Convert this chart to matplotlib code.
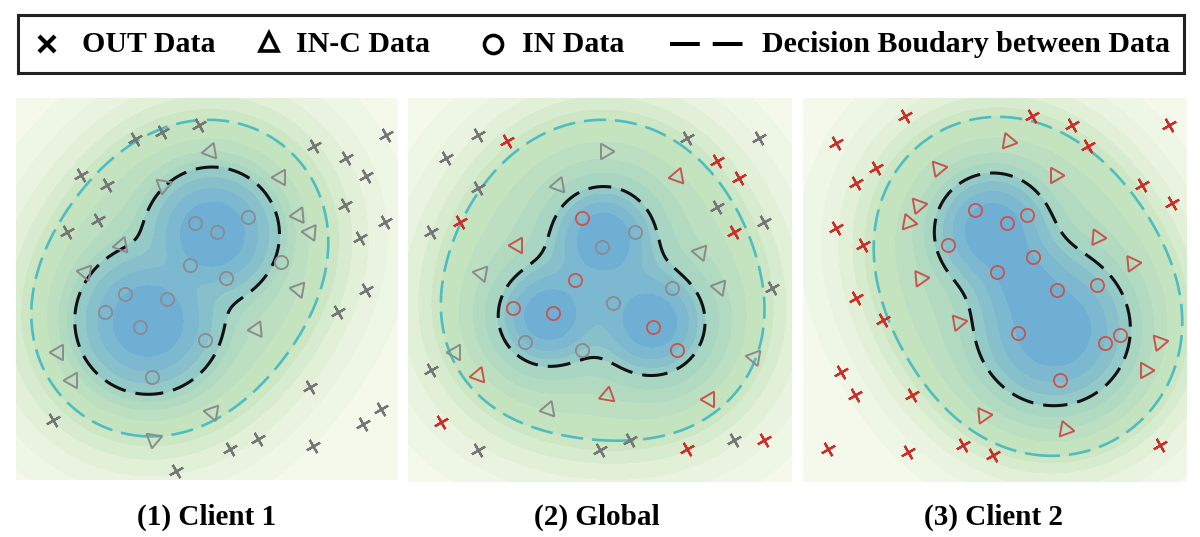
import numpy as np
import matplotlib.pyplot as plt
from matplotlib.colors import LinearSegmentedColormap

W, H = 1200, 537

# ---- panel 1 : Client 1 (local coords 0-100) ----
p1_out_x = [31.1, 38.3, 48.0, 17.0, 23.9, 21.5, 13.3, 78.0, 96.9, 86.3, 91.7, 86.1,
            96.5, 90.0, 91.5, 84.3, 76.9, 95.6, 90.8, 77.8, 63.4, 56.0, 42.0, 9.8]
p1_out_y = [89.2, 91.0, 93.0, 79.9, 77.3, 68.1, 65.0, 87.5, 90.4, 84.3, 79.6, 72.0,
            67.6, 63.3, 49.7, 44.0, 24.3, 18.6, 14.7, 9.0, 10.8, 8.1, 2.4, 15.6]
p1_out_c = ['g'] * 24
p1_inc_x = [50.7, 69.0, 38.5, 27.6, 18.0, 73.8, 76.9, 73.8, 62.9, 11.1, 14.6, 51.2, 35.9]
p1_inc_y = [86.0, 79.3, 77.3, 61.5, 54.5, 69.4, 65.0, 50.1, 39.6, 33.5, 26.1, 17.8, 10.8]
p1_inc_rot = [100, 90, 170, 100, 80, 95, 85, 80, 95, 90, 90, 80, 170]
p1_inc_c = ['g'] * 13
p1_in_x = [46.8, 52.5, 60.8, 45.5, 69.5, 55.1, 28.5, 39.4, 23.3, 32.4, 49.4, 35.5]
p1_in_y = [67.2, 65.0, 68.8, 56.3, 57.1, 52.8, 48.8, 47.5, 44.0, 40.1, 36.6, 26.9]
p1_in_c = ['g'] * 12
p1_blob_x = [51.5, 34.5]
p1_blob_y = [64.5, 41.5]
p1_blob_s = [6.8, 7.5]
p1_blob_w = [1.0, 1.0]
p1_blob_ww = [1.0, 1.0]
p1_inner_anchor = (15.4, 40.9)
p1_outer_anchor = (4.1, 40.9)

# ---- panel 2 : Global ----
p2_out_x = [18.3, 10.0, 18.3, 6.1, 72.6, 91.3, 80.4, 92.6, 94.8, 6.1, 18.3, 50.0, 57.8, 84.8,
            25.7, 13.5, 80.4, 86.1, 84.8, 8.7, 72.6, 92.6]
p2_out_y = [90.4, 84.3, 76.5, 65.2, 89.6, 89.6, 71.7, 67.8, 50.4, 29.1, 8.3, 8.3, 10.9, 10.9,
            88.7, 67.8, 83.5, 79.1, 65.2, 15.7, 8.7, 10.9]
p2_out_c = ['g'] * 14 + ['r'] * 8
p2_inc_x = [51.3, 39.1, 19.1, 76.1, 80.9, 12.2, 36.5, 90.0, 70.0, 28.3, 18.3, 51.7, 78.3]
p2_inc_y = [86.1, 77.4, 54.3, 60.0, 50.9, 33.9, 19.1, 32.6, 79.6, 61.7, 27.8, 22.6, 21.7]
p2_inc_rot = [150, 100, 80, 80, 80, 90, 100, 80, 100, 90, 100, 110, 90]
p2_inc_c = ['g'] * 8 + ['r'] * 5
p2_in_x = [50.4, 59.1, 68.7, 53.5, 30.4, 45.2, 45.2, 43.5, 27.4, 37.8, 63.9, 70.0]
p2_in_y = [61.3, 65.0, 50.4, 46.5, 36.5, 34.3, 68.7, 52.6, 45.2, 43.9, 40.4, 34.3]
p2_in_c = ['g'] * 6 + ['r'] * 6
p2_blob_x = [50.9, 36.1, 63.9]
p2_blob_y = [63.9, 43.0, 41.3]
p2_blob_s = [8.0, 8.0, 8.5]
p2_blob_w = [1.0, 1.0, 1.0]
p2_blob_ww = [1.3, 0.85, 0.95]
p2_inner_anchor = (23.5, 43.0)
p2_outer_anchor = (8.7, 43.0)

# ---- panel 3 : Client 2 ----
p3_out_x = [26.5, 8.7, 19.1, 13.9, 8.7, 15.7, 13.9, 20.9, 10.0, 13.5, 28.3, 6.5, 27.4, 41.7,
            49.6, 59.6, 70.0, 74.3, 95.2, 88.3, 96.1, 93.0]
p3_out_y = [95.2, 88.3, 81.7, 77.8, 66.1, 61.7, 47.8, 42.2, 28.7, 22.6, 22.6, 8.7, 7.8, 9.6,
            7.0, 95.2, 93.0, 87.4, 93.0, 77.4, 72.6, 9.6]
p3_out_c = ['r'] * 22
p3_inc_x = [53.5, 35.2, 65.7, 30.0, 27.4, 30.4, 40.4, 76.5, 85.7, 92.6, 89.1, 47.0, 68.3]
p3_inc_y = [88.7, 81.7, 80.0, 72.2, 67.8, 53.0, 41.7, 63.9, 57.0, 36.5, 29.1, 17.4, 13.9]
p3_inc_rot = [-100, -80, -90, -80, -100, -85, -80, -95, -85, -80, -90, -85, -100]
p3_inc_c = ['r'] * 13
p3_in_x = [44.8, 53.0, 58.3, 37.8, 60.0, 50.4, 66.1, 76.5, 56.1, 78.7, 82.6, 67.0]
p3_in_y = [70.9, 67.4, 69.6, 61.7, 58.7, 54.8, 50.0, 51.3, 38.7, 36.1, 38.3, 26.5]
p3_in_c = ['r'] * 12
p3_blob_x = [49.3, 65.5, 57.0]
p3_blob_y = [65.5, 39.5, 53.0]
p3_blob_s = [7.0, 9.3, 6.0]
p3_blob_w = [1.0, 1.0, 0.5]
p3_blob_ww = [1.0, 1.25, 0.6]
p3_inner_anchor = (50.9, 80.4)
p3_outer_anchor = (46.5, 94.8)

wide_amp = [0.03, 0.1, 0.05]
wide_sig = [20, 20, 19]
titles = ['(1) Client 1', '(2) Global', '(3) Client 2']

GRAY = {'x': '#767676', 'm': '#8b8b8b'}
RED = {'x': '#cc2f2a', 'm': '#c9544c'}


def px_box(left, top, w, h):
    return [left / W, 1 - (top + h) / H, w / W, h / H]


def density(X, Y, bx, by, bs, bw, bww, a, s2):
    F = np.zeros_like(np.asarray(X, dtype=float))
    for x0, y0, s, w, ww in zip(bx, by, bs, bw, bww):
        r2 = (X - x0) ** 2 + (Y - y0) ** 2
        F = F + w * np.exp(-r2 / (2 * s * s)) + a * ww * np.exp(-r2 / (2 * s2 * s2))
    return F


low_cm = LinearSegmentedColormap.from_list('low', ['#f4f9ec', '#e6f2dc', '#cde7c5'])
mid_cm = LinearSegmentedColormap.from_list('mid', ['#c4e3bf', '#a9d6c2'])
high_cm = LinearSegmentedColormap.from_list('high', ['#93c9c7', '#70afd4'])


def draw_panel(ax, blobs, a, s2, inner_pt, outer_pt, outs, incs, ins):
    g = np.linspace(0, 100, 400)
    X, Y = np.meshgrid(g, g)
    F = density(X, Y, *blobs, a, s2)
    inner = float(density(np.array(inner_pt[0]), np.array(inner_pt[1]), *blobs, a, s2))
    outer = float(density(np.array(outer_pt[0]), np.array(outer_pt[1]), *blobs, a, s2))
    lv_low = outer * np.array([0, 0.1, 0.22, 0.38, 0.58, 0.8, 1.0])
    lv_mid = np.geomspace(outer, inner, 5)
    lv_high = np.geomspace(inner, F.max() * 1.001, 5)
    levels = np.concatenate([lv_low, lv_mid[1:], lv_high[1:]])
    cols = list(low_cm(np.linspace(0, 1, 6))) + list(mid_cm(np.linspace(0, 1, 4))) + \
        list(high_cm(np.linspace(0, 1, 4)))
    ax.contourf(X, Y, F, levels=levels, colors=cols)
    ax.contour(X, Y, F, levels=[outer], colors='#4dbdc1', linewidths=1.9,
               linestyles=[(0, (8.4, 3.4))])
    ax.contour(X, Y, F, levels=[inner], colors='#111111', linewidths=2.2,
               linestyles=[(0, (7.5, 3.3))])

    ox, oy, oc = outs
    for x, y, c in zip(ox, oy, oc):
        pal = GRAY if c == 'g' else RED
        ax.plot(x, y, marker=(4, 2, 30), ms=11, mew=1.6, color=pal['x'], ls='none')
    tx, ty, tr, tc = incs
    for x, y, r, c in zip(tx, ty, tr, tc):
        pal = GRAY if c == 'g' else RED
        ax.plot(x, y, marker=(3, 0, r), ms=13, mew=1.4, mfc='none', mec=pal['m'], ls='none')
    cx, cy, cc = ins
    for x, y, c in zip(cx, cy, cc):
        pal = GRAY if c == 'g' else RED
        ax.plot(x, y, marker='o', ms=9.5, mew=1.3, mfc='none', mec=pal['m'], ls='none')
    ax.set_xlim(0, 100)
    ax.set_ylim(0, 100)
    ax.axis('off')


fig = plt.figure(figsize=(12, 5.37), dpi=100)
boxes = [(16, 98, 382, 382), (408, 98, 384, 384), (803, 98, 384, 384)]
panels = [
    ((p1_blob_x, p1_blob_y, p1_blob_s, p1_blob_w, p1_blob_ww), p1_inner_anchor, p1_outer_anchor,
     (p1_out_x, p1_out_y, p1_out_c), (p1_inc_x, p1_inc_y, p1_inc_rot, p1_inc_c),
     (p1_in_x, p1_in_y, p1_in_c)),
    ((p2_blob_x, p2_blob_y, p2_blob_s, p2_blob_w, p2_blob_ww), p2_inner_anchor, p2_outer_anchor,
     (p2_out_x, p2_out_y, p2_out_c), (p2_inc_x, p2_inc_y, p2_inc_rot, p2_inc_c),
     (p2_in_x, p2_in_y, p2_in_c)),
    ((p3_blob_x, p3_blob_y, p3_blob_s, p3_blob_w, p3_blob_ww), p3_inner_anchor, p3_outer_anchor,
     (p3_out_x, p3_out_y, p3_out_c), (p3_inc_x, p3_inc_y, p3_inc_rot, p3_inc_c),
     (p3_in_x, p3_in_y, p3_in_c)),
]
title_x = [207, 597, 993]
for i, (box, p) in enumerate(zip(boxes, panels)):
    ax = fig.add_axes(px_box(*box))
    blobs, ia, oa, outs, incs, ins = p
    draw_panel(ax, blobs, wide_amp[i], wide_sig[i], ia, oa, outs, incs, ins)
    fig.text(title_x[i] / W, 1 - 517 / H, titles[i], ha='center', va='center',
             fontsize=21, fontweight='bold', family='Liberation Serif')

# legend box
lg = fig.add_axes(px_box(18, 15, 1166, 58))
lg.set_xlim(18, 1184)
lg.set_ylim(73, 15)
lg.set_xticks([])
lg.set_yticks([])
for sp in lg.spines.values():
    sp.set_linewidth(2.2)
    sp.set_color('#222222')
font = dict(fontsize=21.5, fontweight='bold', family='Liberation Serif', va='center', ha='left')
lg.plot(47, 44, marker='x', ms=11, mew=3, color='k')
lg.text(82, 45, 'OUT Data', **font)
lg.plot(269, 42, marker='^', ms=13, mew=2.6, mfc='none', mec='k')
lg.text(296, 45, 'IN-C Data', **font)
lg.plot(493, 44, marker='o', ms=13, mew=2.6, mfc='none', mec='k')
lg.text(522, 45, 'IN Data', **font)
lg.plot([670, 743], [44, 44], color='k', lw=2.9, ls=(0, (7.4, 3.2)))
lg.text(762, 45, 'Decision Boudary between Data', **font)

fig.savefig('out.png', dpi=100)
